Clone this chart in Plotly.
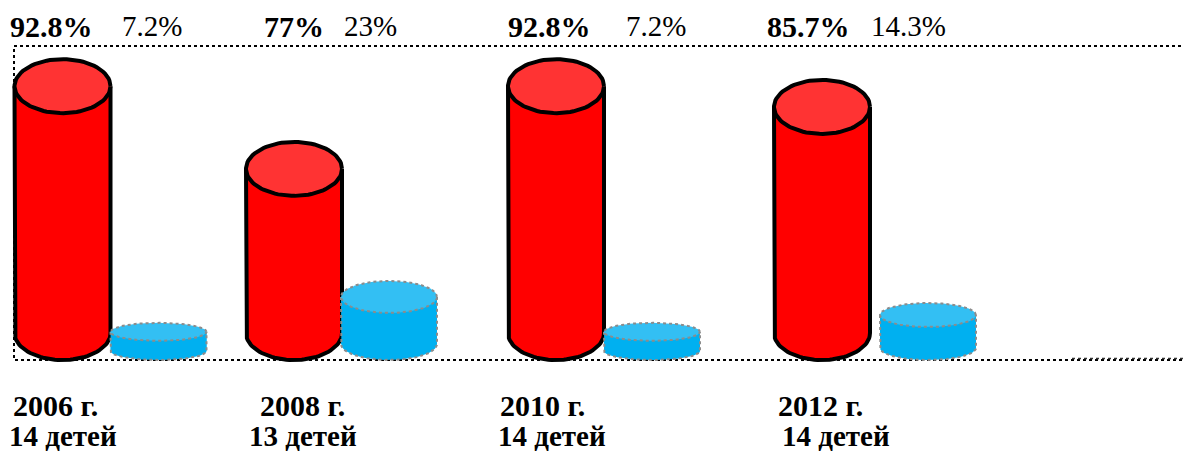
import numpy as np
import plotly.graph_objects as go

# ---- data ----
years = ["2006 г.", "2008 г.", "2010 г.", "2012 г."]
children = ["14 детей", "13 детей", "14 детей", "14 детей"]
red_labels = ["92.8%", "77%", "92.8%", "85.7%"]
blue_labels = ["7.2%", "23%", "7.2%", "14.3%"]
red_heights = [92.8, 61.7, 92.8, 85.0]   # drawn cylinder heights
blue_heights = [7.2, 17.7, 7.2, 12.4]

# ---- layout (pixel based axes) ----
W, H = 1183, 452
FLOOR_PX = 360
PX_PER_UNIT = 2.66
red_cx = [62.5, 294, 556, 822]
blue_cx = [158.5, 389, 652, 928]
RX = 48
red_depth_px = [27, 27, 27, 27]
blue_depth_px = [9, 16, 9, 12]
red_label_x = [9, 263, 507, 766]
blue_label_x = [121, 343, 625, 870]
year_x = [12, 259, 499, 777]
child_x = [8, 248, 497, 781]
FONT = "Liberation Serif"
FS = 29
FS_BIG = 30


def val(py):
    return (FLOOR_PX - py) / PX_PER_UNIT


RED, RED_TOP = "#FF0000", "#FF3333"
BLUE, BLUE_TOP = "#00B0F0", "#33BFF3"
GREY = "#8C8C8C"

fig = go.Figure()


def cylinder(cx, h, depth_px, body, top, line):
    ry = depth_px / PX_PER_UNIT
    base = ry
    ytop = base + h
    # body as a real bar
    fig.add_trace(go.Bar(x=[cx], y=[h], base=[base], width=[2 * RX],
                         marker=dict(color=body, line=dict(width=0)),
                         hoverinfo="skip", showlegend=False))
    t = np.linspace(np.pi, 2 * np.pi, 50)
    xs = [cx - RX] + list(cx + RX * np.cos(t)) + [cx + RX]
    ys = [ytop] + list(base + ry * np.sin(t)) + [ytop]
    fig.add_trace(go.Scatter(x=xs, y=ys, mode="lines", line=line, fill="toself",
                             fillcolor=body, hoverinfo="skip", showlegend=False))
    t = np.linspace(0, 2 * np.pi, 90)
    fig.add_trace(go.Scatter(x=cx + RX * np.cos(t), y=ytop + ry * np.sin(t), mode="lines",
                             line=line, fill="toself", fillcolor=top,
                             hoverinfo="skip", showlegend=False))


blue_line = dict(color=GREY, width=2, dash="dot")
red_line = dict(color="black", width=4)
for cx, h, d in zip(red_cx, red_heights, red_depth_px):
    cylinder(cx, h, d, RED, RED_TOP, red_line)
for cx, h, d in zip(blue_cx, blue_heights, blue_depth_px):
    cylinder(cx, h, d, BLUE, BLUE_TOP, blue_line)

ann = []


def label(x, py, text, bold, size=FS):
    ann.append(dict(x=x, y=val(py), xref="x", yref="y", xanchor="left", yanchor="middle",
                    text=f"<b>{text}</b>" if bold else text, showarrow=False, borderpad=0,
                    font=dict(family=FONT, size=size, color="black")))


for i in range(4):
    label(red_label_x[i], 26, red_labels[i], True, FS_BIG)
    label(blue_label_x[i], 26, blue_labels[i], False)
    label(year_x[i], 405, years[i], True, FS_BIG)
    label(child_x[i], 436, children[i], True)

shapes = [
    dict(type="rect", xref="x", yref="y", x0=14, x1=W + 5, y0=val(46), y1=val(360), layer="below",
         line=dict(color="black", width=2, dash="dot")),
    dict(type="line", xref="x", yref="y", x0=1072, x1=W, y0=val(358.5), y1=val(358.5), layer="below",
         line=dict(color="#333333", width=1.5, dash="dot")),
]

fig.update_layout(
    width=W, height=H, margin=dict(l=0, r=0, t=0, b=0), autosize=False,
    paper_bgcolor="white", plot_bgcolor="white", barmode="overlay", showlegend=False,
    xaxis=dict(range=[0, W], visible=False, fixedrange=True),
    yaxis=dict(range=[val(H), val(0)], visible=False, fixedrange=True),
    annotations=ann, shapes=shapes,
)
fig.write_html("out.html", config={"displayModeBar": False},
               post_script="document.body.style.margin='0';")
